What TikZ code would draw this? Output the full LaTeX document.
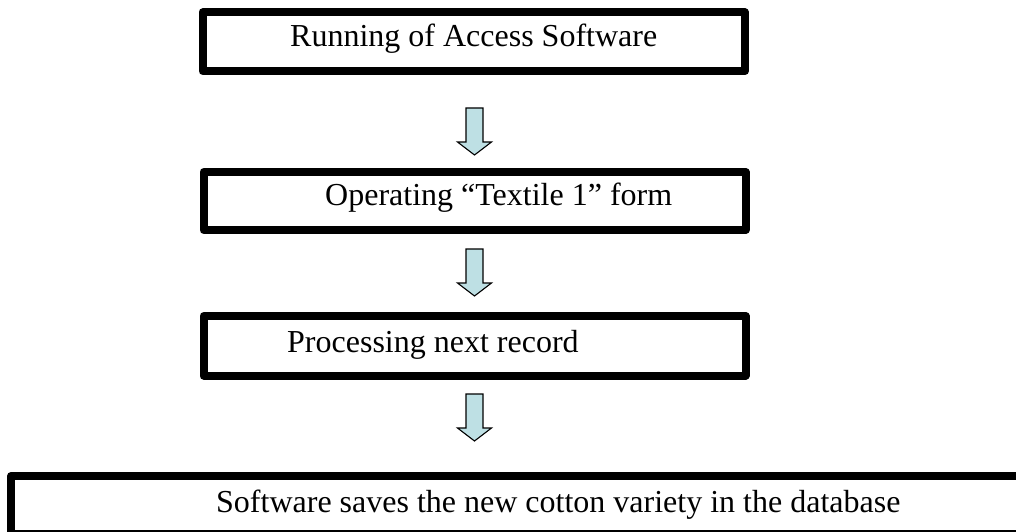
\documentclass[tikz,border=0pt]{standalone}
\usepackage{fontspec}
\setmainfont{Liberation Serif}
\definecolor{arrowfill}{RGB}{190,224,228}
\tikzset{
  stepbox/.style={draw=black, line width=8pt, line join=round},
  label/.style={anchor=base west, inner sep=0pt, font=\fontsize{32}{38}\selectfont},
  blockarrow/.style={draw=black, line width=1.1pt, fill=arrowfill, line join=miter}
}
\begin{document}
\begin{tikzpicture}[x=1pt,y=-1pt]
\useasboundingbox (0,0) rectangle (1016,532);
\clip (0,0) rectangle (1016,532);
% boxes
\draw[stepbox] (202.5,12.5) rectangle (745,71);
\draw[stepbox] (203.5,172) rectangle (745.5,230);
\draw[stepbox] (203.5,316) rectangle (745.5,375.5);
\draw[stepbox] (11,476) rectangle (1040,534);
% texts
\node[label] (t1) at (290,47) {Running of Access Software};
\node[label] (t2) at (325,205) {Operating “Textile 1” form};
\node[label] (t3) at (287,352) {Processing next record};
\node[label] (t4) at (216,512) {Software saves the new cotton variety in the database};
% block arrows
\foreach \n/\y in {a1/108, a2/249, a3/394}{
  \coordinate (\n) at (474.5,\y);
  \draw[blockarrow] ([xshift=-8.5pt]\n) -- ++(0,34) -- ++(-8.5,0) -- ++(17,13) -- ++(17,-13) -- ++(-8.5,0) -- ++(0,-34) -- cycle;
}
\end{tikzpicture}
\end{document}
